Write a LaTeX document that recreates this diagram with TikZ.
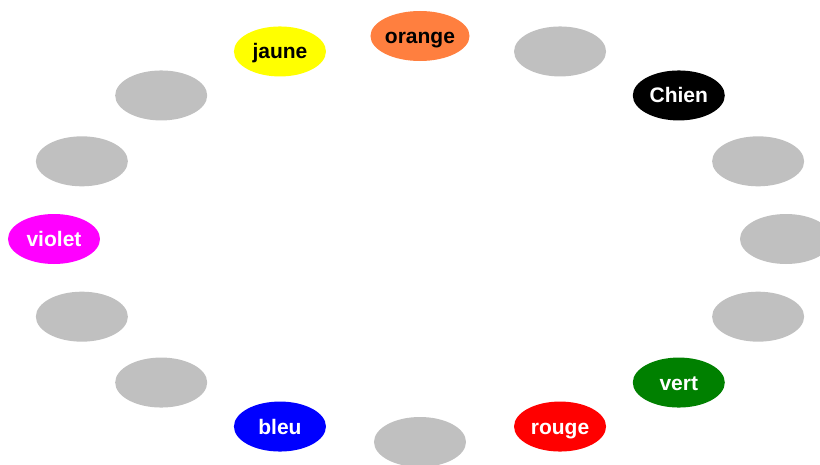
\documentclass[tikz,border=0pt]{standalone}
\usepackage{fontspec}
\setmainfont{Liberation Sans}
\usetikzlibrary{shapes.geometric}

\definecolor{coral}{RGB}{255,127,63}
\definecolor{silver}{RGB}{192,192,192}
\definecolor{darkgreen}{RGB}{0,128,0}
\definecolor{fuchsia}{RGB}{255,0,255}
\definecolor{pureblue}{RGB}{0,0,255}
\definecolor{purered}{RGB}{255,0,0}
\definecolor{pureyellow}{RGB}{255,255,0}

\tikzset{
  blob/.style={ellipse, minimum width=92pt, minimum height=50pt, inner sep=0pt,
               text height=15pt, text depth=0pt,
               font=\fontsize{21}{24}\selectfont\bfseries},
}

\begin{document}
\begin{tikzpicture}[x=1pt,y=1pt]

\useasboundingbox (-420,-225) rectangle (400,239);

\foreach \a/\name/\fc/\tc/\lbl in {90/orange/coral/black/orange, 67.5/g1/silver/black/,
    45/chien/black/white/Chien, 22.5/g2/silver/black/, 0/g3/silver/black/,
    -22.5/g4/silver/black/, -45/vert/darkgreen/white/vert, -67.5/rouge/purered/white/rouge,
    -90/g5/silver/black/, -112.5/bleu/pureblue/white/bleu, -135/g6/silver/black/,
    -157.5/g7/silver/black/, 180/violet/fuchsia/white/violet, 157.5/g8/silver/black/,
    135/g9/silver/black/, 112.5/jaune/pureyellow/black/jaune}
{
    \node[blob, fill=\fc, text=\tc] (\name) at (\a:366 and 203) {\lbl};
}

\end{tikzpicture}
\end{document}
